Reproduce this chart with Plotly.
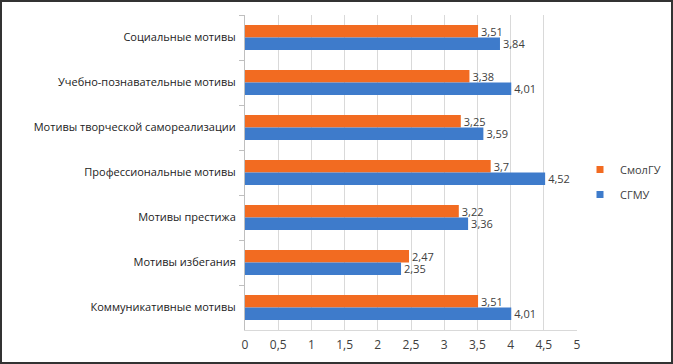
import plotly.graph_objects as go

categories = [
    "Социальные мотивы",
    "Учебно-познавательные мотивы",
    "Мотивы творческой самореализации",
    "Профессиональные мотивы",
    "Мотивы престижа",
    "Мотивы избегания",
    "Коммуникативные мотивы",
]
smolgu = [3.51, 3.38, 3.25, 3.7, 3.22, 2.47, 3.51]
sgmu = [3.84, 4.01, 3.59, 4.52, 3.36, 2.35, 4.01]
series_names = ["СмолГУ", "СГМУ"]
x_ticks = [0, 0.5, 1, 1.5, 2, 2.5, 3, 3.5, 4, 4.5, 5]

W, H = 673, 364
ML, MR, MT, MB = 245, 96, 15, 34
PW, PH = W - ML - MR, H - MT - MB

FONT = "Open Sans"
TXT = "#404040"
COLORS = ["#F26B21", "#3E7BCB"]

def fmt(v):
    s = ("%.2f" % v).rstrip("0").rstrip(".")
    return s.replace(".", ",")

fig = go.Figure()
for name, vals, col, grp in [
    (series_names[0], smolgu, COLORS[0], "a"),
    (series_names[1], sgmu, COLORS[1], "b"),
]:
    fig.add_trace(go.Bar(
        y=categories, x=vals, name=name, orientation="h",
        marker=dict(color=col, line=dict(width=0)),
        text=[fmt(v) for v in vals], textposition="outside",
        constraintext="none",
        textfont=dict(family=FONT, size=11, color=TXT),
        cliponaxis=False, legendgroup=grp, showlegend=False,
    ))
# legend entries with small square keys
for name, col, grp in [(series_names[0], COLORS[0], "a"),
                       (series_names[1], COLORS[1], "b")]:
    fig.add_trace(go.Scatter(
        x=[None], y=[None], mode="markers", name=name,
        marker=dict(symbol="square", size=7, color=col),
        legendgroup=grp, showlegend=True,
    ))

fig.update_layout(
    width=W, height=H,
    margin=dict(l=ML, r=MR, t=MT, b=MB, autoexpand=False),
    paper_bgcolor="white", plot_bgcolor="white",
    separators=", ",
    barmode="group", bargap=0.44, bargroupgap=0,
    font=dict(family=FONT, size=12, color=TXT),
    showlegend=True,
    legend=dict(x=(580 - ML) / PW, y=1 - (182 - MT) / PH,
                xanchor="left", yanchor="middle",
                font=dict(family=FONT, size=11, color=TXT),
                traceorder="grouped", tracegroupgap=6,
                itemwidth=30, bgcolor="rgba(0,0,0,0)"),
    xaxis=dict(range=[0, 5], tickvals=x_ticks, showgrid=True,
               gridcolor="#d9d9d9", gridwidth=1, zeroline=False,
               showline=True, linecolor="#d9d9d9", linewidth=1,
               tickfont=dict(family=FONT, size=12, color=TXT),
               ticks="", ticklabelstandoff=4,
               fixedrange=True, automargin=False),
    yaxis=dict(autorange="reversed", showgrid=False, zeroline=False,
               showline=True, linecolor="#bfbfbf", linewidth=1,
               ticks="outside", tickson="boundaries", ticklen=5,
               tickcolor="#bfbfbf", ticklabelstandoff=6, automargin=False,
               fixedrange=True,
               tickfont=dict(family=FONT, size=11, color="#222222")),
    shapes=[dict(type="rect", xref="paper", yref="paper",
                 x0=-(ML - 1) / PW, x1=(W - ML - 1) / PW,
                 y0=-(MB - 1) / PH, y1=(PH + MT - 1) / PH,
                 line=dict(color="#333333", width=2), layer="above")],
)

fig.write_html("out.html", config={"displayModeBar": False},
               post_script="document.body.style.margin='0';document.body.style.overflow='hidden';")
